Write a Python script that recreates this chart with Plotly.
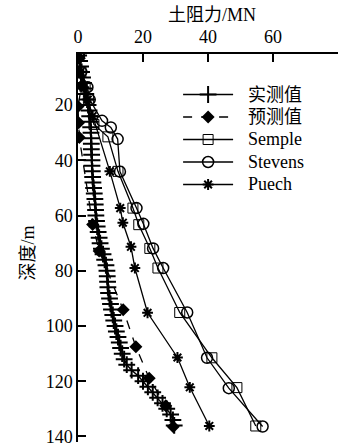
import plotly.graph_objects as go

# 实测值: depth (m) and soil resistance (MN)
measured_depth = [2, 4, 6, 8, 10, 12, 14, 16, 18, 20, 22, 24, 26, 28, 30, 32, 34, 36, 38, 40,
                  42, 44, 46, 48, 50, 52, 54, 56, 58, 60, 62, 64, 66, 68, 70, 72, 74, 76, 78, 80,
                  82, 84, 86, 88, 90, 92, 94, 96, 98, 100, 102, 104, 106, 108, 110, 112, 114, 116,
                  118, 120, 122, 124, 126, 128, 130, 132, 134, 136]
measured_force = [0.2, 0.5, 0.8, 1.1, 1.4, 1.7, 2.0, 2.4, 2.8, 3.1, 3.4, 3.6, 3.8, 3.9, 4.0, 4.0,
                  4.1, 4.1, 4.2, 4.3, 4.3, 4.4, 4.5, 4.6, 4.8, 5.0, 5.2, 5.3, 5.4, 5.5, 5.7, 5.9,
                  6.2, 6.5, 6.8, 7.2, 7.7, 8.2, 8.6, 8.9, 9.0, 9.1, 9.2, 9.4, 9.7, 10.0, 10.3, 10.7,
                  11.0, 11.4, 11.8, 12.3, 12.7, 13.1, 13.6, 14.2, 15.0, 16.5, 18.5, 20.0, 21.5,
                  23.0, 24.5, 26.0, 27.3, 28.5, 29.2, 29.6]

# 预测值
predicted_depth = [3, 8, 13, 20.5, 26.4, 31.7, 63.2, 72.8, 94.1, 107.5, 118.9, 128.9, 136.5]
predicted_force = [0.4, 0.4, 1.1, 0.0, 0.2, 0.4, 4.5, 6.5, 13.9, 17.8, 21.9, 27.0, 29.3]

# Semple
semple_depth = [2.2, 8, 13.5, 18, 27, 31.5, 44, 57.3, 63.3, 71.9, 79, 95.1, 111.5, 122.3, 136.2]
semple_force = [0.2, 0.9, 2.2, 3.2, 4.9, 9.2, 12.3, 16.9, 18.7, 22.1, 24.6, 31.3, 41.2, 48.9, 54.7]

# Stevens
stevens_depth = [2.2, 8, 13.5, 18, 25.7, 28.1, 32.3, 44.1, 57.3, 63, 71.9, 79, 95.1, 111.5, 122.5, 136.4]
stevens_force = [0.3, 1.0, 2.9, 3.6, 7.4, 10.1, 12.2, 12.9, 18.0, 20.1, 23.1, 26.2, 33.6, 39.7, 46.4, 56.8]

# Puech
puech_depth = [2.2, 8, 13.5, 18, 24, 44, 57.3, 62.6, 71.3, 79, 95.2, 111.4, 122.2, 136.2]
puech_force = [0.2, 0.8, 1.8, 3.0, 4.5, 9.8, 13.0, 13.8, 16.3, 17.5, 21.4, 30.6, 34.4, 40.4]

series_names = ["实测值", "预测值", "Semple", "Stevens", "Puech"]
x_ticks = [0, 20, 40, 60, 80]
y_ticks = [20, 40, 60, 80, 100, 120, 140]

SERIF = "Liberation Serif, Noto Sans CJK SC, serif"
BLACK = "#000000"

# plot area in pixels: left 78, top 54, width 260, height 393
PLOT_TOP, PLOT_H = 54, 393
LEGEND_ROW0, LEGEND_PITCH = 95.5, 22.5

fig = go.Figure()

# legend keys come from plotly's legend with blank entry text (tight 15px rows);
# the series labels are drawn as 18px annotations beside the keys
fig.add_trace(go.Scatter(
    x=measured_force, y=measured_depth, name="", legendgroup=series_names[0],
    mode="lines+markers", showlegend=True,
    line=dict(color=BLACK, width=1.5),
    marker=dict(symbol="cross-thin", size=12, color=BLACK, line=dict(color=BLACK, width=2)),
))
fig.add_trace(go.Scatter(
    x=predicted_force, y=predicted_depth, name="", legendgroup=series_names[1],
    mode="lines+markers", showlegend=True,
    line=dict(color=BLACK, width=1.3, dash="dash"),
    marker=dict(symbol="diamond", size=10, color=BLACK),
))
fig.add_trace(go.Scatter(
    x=semple_force, y=semple_depth, name="", legendgroup=series_names[2],
    mode="lines+markers", showlegend=True,
    line=dict(color=BLACK, width=1.3),
    marker=dict(symbol="square-open", size=10, color=BLACK, line=dict(color=BLACK, width=1)),
))
fig.add_trace(go.Scatter(
    x=stevens_force, y=stevens_depth, name="", legendgroup=series_names[3],
    mode="lines+markers", showlegend=True,
    line=dict(color=BLACK, width=1.3),
    marker=dict(symbol="circle-open", size=11, color=BLACK, line=dict(color=BLACK, width=1.5)),
))
fig.add_trace(go.Scatter(
    x=puech_force, y=puech_depth, name="", legendgroup=series_names[4],
    mode="lines+markers", showlegend=True,
    line=dict(color=BLACK, width=1.3),
    marker=dict(symbol="asterisk-open", size=9, color=BLACK, line=dict(color=BLACK, width=2)),
))

legend_labels = [
    dict(text=name, xref="paper", yref="paper", x=0.645,
         y=1 - (LEGEND_ROW0 + i * LEGEND_PITCH - PLOT_TOP) / PLOT_H,
         xanchor="left", yanchor="middle", showarrow=False,
         font=dict(family=SERIF, size=18, color=BLACK))
    for i, name in enumerate(series_names)
]

fig.update_layout(
    width=344, height=447,
    margin=dict(l=78, r=6, t=PLOT_TOP, b=0),
    paper_bgcolor="white", plot_bgcolor="white",
    font=dict(family=SERIF, size=18, color=BLACK),
    showlegend=True,
    legend=dict(
        x=0.385, y=0.9375, xanchor="left", yanchor="top",
        bgcolor="rgba(0,0,0,0)", borderwidth=0,
        font=dict(family=SERIF, size=15, color=BLACK),
        itemwidth=50, tracegroupgap=0, traceorder="normal",
    ),
    xaxis=dict(
        side="top", range=[0, 80], tickvals=x_ticks, ticks="inside", ticklen=8,
        tickwidth=1.5, tickcolor=BLACK, showline=True, linecolor=BLACK, linewidth=1.5,
        showgrid=False, zeroline=False, ticklabelstandoff=2,
        tickfont=dict(family=SERIF, size=18, color=BLACK),
    ),
    yaxis=dict(
        range=[142, 1.5], tickvals=y_ticks, ticks="inside", ticklen=8,
        tickwidth=1.5, tickcolor=BLACK, showline=True, linecolor=BLACK, linewidth=1.5,
        showgrid=False, zeroline=False, ticklabeloverflow="allow",
        tickfont=dict(family=SERIF, size=18, color=BLACK),
    ),
    annotations=[
        dict(text="土阻力/MN", xref="paper", yref="paper", x=0.515, y=1 + 40 / PLOT_H,
             xanchor="center", yanchor="middle", showarrow=False,
             font=dict(family=SERIF, size=18, color=BLACK)),
        dict(text="深度/m", xref="paper", yref="paper", x=-50 / 260,
             y=1 - (256 - PLOT_TOP) / PLOT_H,
             xanchor="center", yanchor="middle", textangle=-90, showarrow=False,
             font=dict(family=SERIF, size=18, color=BLACK)),
    ] + legend_labels,
)

fig.write_html("out.html")
